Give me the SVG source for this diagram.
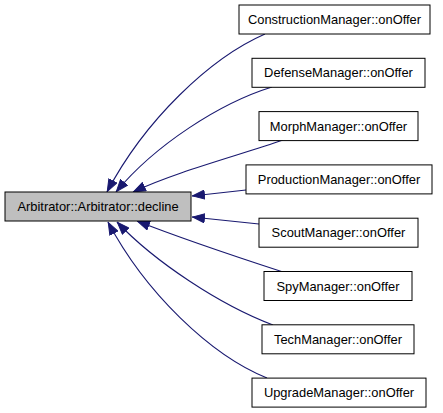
<svg xmlns="http://www.w3.org/2000/svg" width="443" height="413" viewBox="0 0 443 413">
<defs>
<style>
.node rect{fill:#fff;stroke:#000;stroke-width:1}
.node.main rect{fill:#bfbfbf}
.node text{font-family:"Liberation Sans",Arial,sans-serif;font-size:12.9px;text-anchor:middle;fill:#000}
.edges path{fill:none;stroke:#191970;stroke-width:1.1}
</style>
<marker id="ah" viewBox="0 0 13 10" refX="13" refY="5" markerWidth="13" markerHeight="10" markerUnits="userSpaceOnUse" orient="auto">
<path d="M0.5,0.5 L12.5,5 L0.5,9.5 Z" fill="#191970" stroke="#191970" stroke-width="1"/>
</marker>
</defs>
<rect width="443" height="413" fill="#fff"/>
<g class="edges">
<path d="M265,34 C210,58 145,120 107,192" marker-end="url(#ah)"/>
<path d="M272,87 C220,103 155,145 116,192" marker-end="url(#ah)"/>
<path d="M283,140 C240,155 175,172 133,192" marker-end="url(#ah)"/>
<path d="M246,190 L192,196" marker-end="url(#ah)"/>
<path d="M259,224 L192,217" marker-end="url(#ah)"/>
<path d="M283,272 C240,258 175,236 137,221" marker-end="url(#ah)"/>
<path d="M273,325 C220,305 155,262 117,222" marker-end="url(#ah)"/>
<path d="M267,378 C210,355 145,292 108,222" marker-end="url(#ah)"/>
</g>
<g id="node-decline" class="node main"><rect x="5" y="192" width="186" height="29"/><text x="98" y="211">Arbitrator::Arbitrator::decline</text></g>
<g id="node-construction" class="node"><rect x="239" y="5" width="191" height="29"/><text x="334.5" y="24">ConstructionManager::onOffer</text></g>
<g id="node-defense" class="node"><rect x="252" y="58.3" width="173" height="29"/><text x="338.5" y="77.3">DefenseManager::onOffer</text></g>
<g id="node-morph" class="node"><rect x="259" y="111.6" width="159" height="29"/><text x="338.5" y="130.6">MorphManager::onOffer</text></g>
<g id="node-production" class="node"><rect x="246" y="164.9" width="186" height="29"/><text x="339" y="183.9">ProductionManager::onOffer</text></g>
<g id="node-scout" class="node"><rect x="259" y="218.2" width="159" height="29"/><text x="338.5" y="237.2">ScoutManager::onOffer</text></g>
<g id="node-spy" class="node"><rect x="264" y="271.5" width="148" height="29"/><text x="338" y="290.5">SpyManager::onOffer</text></g>
<g id="node-tech" class="node"><rect x="262" y="324.8" width="152" height="29"/><text x="338" y="343.8">TechManager::onOffer</text></g>
<g id="node-upgrade" class="node"><rect x="252" y="378.1" width="174" height="29"/><text x="339" y="397.1">UpgradeManager::onOffer</text></g>
</svg>
